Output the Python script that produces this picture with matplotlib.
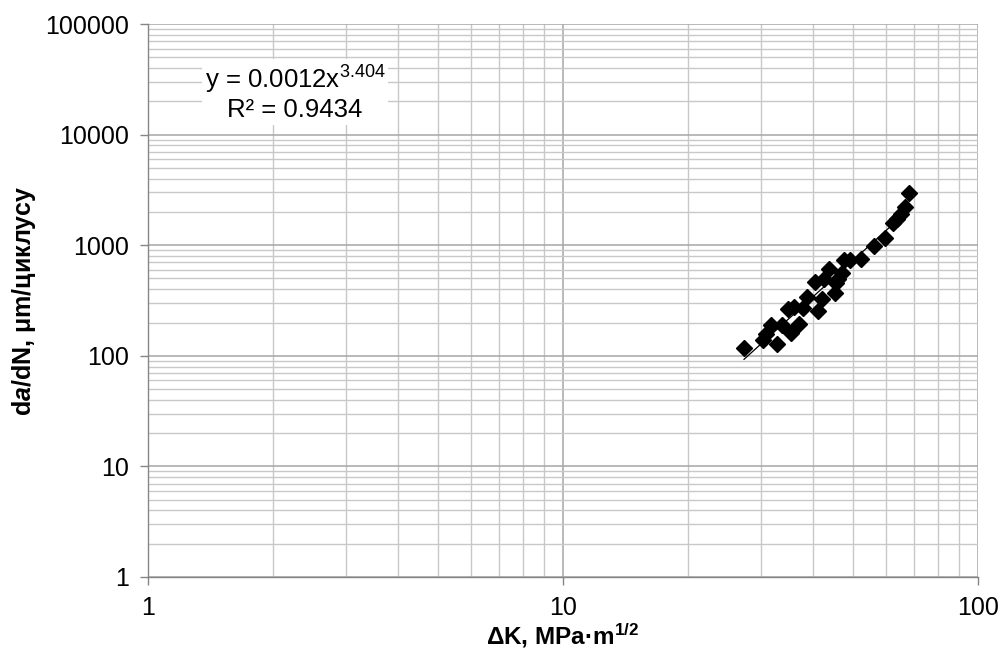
import numpy as np
import matplotlib
matplotlib.use("Agg")
import matplotlib.pyplot as plt
from matplotlib.ticker import LogLocator, FixedLocator, FixedFormatter, NullFormatter

plt.rcParams['font.family'] = ['Liberation Sans', 'DejaVu Sans']
plt.rcParams['mathtext.fontset'] = 'custom'
plt.rcParams['mathtext.rm'] = 'Liberation Sans'
plt.rcParams['mathtext.it'] = 'Liberation Sans:italic:bold'
plt.rcParams['mathtext.bf'] = 'Liberation Sans:bold'

# Stress intensity range (MPa·m^1/2) and crack growth rate (µm/cycle)
delta_k = [27.3, 30.3, 30.8, 31.7, 32.8, 33.7, 35.4, 34.8, 36.0, 37.0,
           37.9, 38.7, 40.5, 41.2, 42.1, 42.6, 43.8, 45.2, 45.5, 46.0,
           47.0, 47.6, 49.1, 52.3, 56.2, 59.7, 62.4, 63.8, 65.2, 66.7, 68.2]
dadn = [118, 139, 157, 190, 128, 190, 161, 265, 276, 194,
        270, 340, 465, 254, 326, 495, 609, 370, 455, 495,
        561, 735, 735, 750, 983, 1162, 1587, 1726, 1915, 2215, 2965]

# Power-law fit parameters
fit_coef = 0.0012
fit_exp = 3.404
fit_r2 = 0.9434

x_ticks = [1, 10, 100]
x_tick_labels = ["1", "10", "100"]
y_ticks = [1, 10, 100, 1000, 10000, 100000]
y_tick_labels = ["1", "10", "100", "1000", "10000", "100000"]

fig = plt.figure(figsize=(10.05, 6.52), dpi=100)
W, H = 1005, 652
ax = fig.add_axes([148 / W, (H - 577) / H, (978 - 148) / W, (577 - 24) / H])

ax.set_xscale('log')
ax.set_yscale('log')
ax.set_xlim(1, 100)
ax.set_ylim(1, 100000)

ax.xaxis.set_major_locator(FixedLocator(x_ticks))
ax.xaxis.set_major_formatter(FixedFormatter(x_tick_labels))
ax.yaxis.set_major_locator(FixedLocator(y_ticks))
ax.yaxis.set_major_formatter(FixedFormatter(y_tick_labels))
ax.xaxis.set_minor_locator(LogLocator(base=10, subs=np.arange(2, 10)))
ax.yaxis.set_minor_locator(LogLocator(base=10, subs=np.arange(2, 10)))
ax.xaxis.set_minor_formatter(NullFormatter())
ax.yaxis.set_minor_formatter(NullFormatter())

ax.grid(which='major', color='#a6a6a6', linewidth=1.1)
ax.grid(which='minor', color='#c8c8c8', linewidth=1.0)
ax.set_axisbelow(True)

for side in ['top', 'right']:
    ax.spines[side].set_visible(False)
for side in ['left', 'bottom']:
    ax.spines[side].set_color('#868686')
    ax.spines[side].set_linewidth(1.0)

ax.tick_params(which='major', direction='out', length=6, width=1, color='#868686',
               labelsize=18, pad=8)
ax.tick_params(which='minor', length=0)
ax.tick_params(axis='x', pad=8)

# Fitted power-law trend line across the data range
xf = np.linspace(min(delta_k), max(delta_k), 200)
ax.plot(xf, fit_coef * xf ** fit_exp, color='black', linewidth=0.9, zorder=3)

ax.plot(delta_k, dadn, linestyle='none', marker='D', markersize=8,
        color='black', zorder=4)

ax.text(0.177, 0.875,
        "y = 0.0012x$^{3.404}$\nR² = 0.9434",
        transform=ax.transAxes, ha='center', va='center', fontsize=18.5,
        linespacing=1.1,
        bbox=dict(facecolor='white', edgecolor='none', pad=2))

fig.text(563 / W, 7 / H, r"ΔK, MPa·m$^{\mathbf{1/2}}$", fontsize=17.5,
         fontweight='bold', ha='center', va='baseline')
ax.set_ylabel(r"d$\it{a}$/dN, μm/циклусу", fontsize=18, fontweight='bold',
              labelpad=5)

fig.savefig("out.png", dpi=100)
